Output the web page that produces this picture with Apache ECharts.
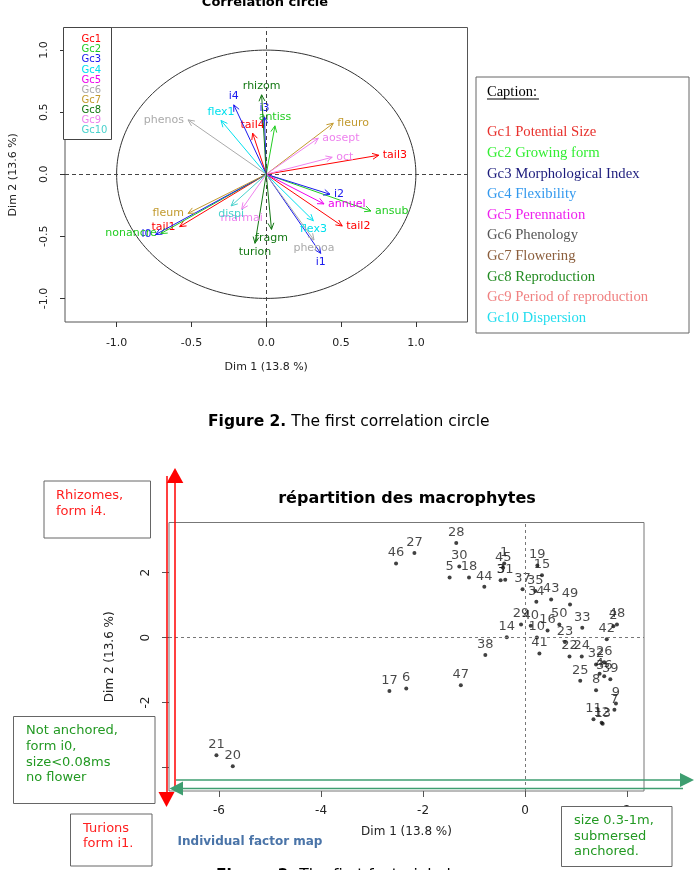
<!DOCTYPE html>
<html>
<head>
<meta charset="utf-8">
<script src="https://cdn.jsdelivr.net/npm/echarts@6/dist/echarts.min.js"></script>
<style>
html,body{margin:0;padding:0;background:#fff;}
#c{width:700px;height:870px;}
</style>
</head>
<body>
<div id="c"></div>
<script>
// ---------- Data: correlation circle ----------
const groupNames = ['Gc1','Gc2','Gc3','Gc4','Gc5','Gc6','Gc7','Gc8','Gc9','Gc10'];
const groupLabels = ['Potential Size','Growing form','Morphological Index','Flexibility','Perennation','Phenology','Flowering','Reproduction','Period of reproduction','Dispersion'];
const groupColors = ['#ff0000','#22cc22','#1a1aee','#00e0ee','#ee00ee','#aaaaaa','#c29a2e','#127712','#ee82ee','#48d1cc'];
const captionColors = ['#e8302c','#33ee33','#1c1c7c','#3399ee','#ee22ee','#555555','#8b5e3c','#228b22','#f08080','#22ddee'];

const varNames = ['tail1','tail2','tail3','tail4','nonancre','ansub','antiss','i0','i1','i2','i3','i4','flex1','flex3','annuel','phenos','phenoa','fleum','fleuro','rhizom','fragm','turion','aosept','oct','marmai','dispi'];
const varDim1  = [-0.579, 0.508, 0.752,-0.091,-0.705, 0.700, 0.058,-0.740, 0.364, 0.426,-0.012,-0.217,-0.302, 0.315, 0.386,-0.523, 0.319,-0.523, 0.448,-0.031, 0.035,-0.075, 0.348, 0.441,-0.164,-0.235];
const varDim2  = [-0.422,-0.417, 0.153, 0.331,-0.478,-0.296, 0.390,-0.486,-0.637,-0.161, 0.462, 0.559, 0.433,-0.374,-0.239, 0.438,-0.530,-0.315, 0.411, 0.640,-0.444,-0.556, 0.290, 0.137,-0.282,-0.255];
const varGroup = [0,0,0,0,1,1,1,2,2,2,2,2,3,3,4,5,5,6,6,7,7,7,8,8,8,9];
const circleTicks = [-1,-0.5,0,0.5,1];

// ---------- Data: individual factor map ----------
const indIds  = [1,2,3,4,5,6,7,8,9,10,11,12,13,14,15,16,17,18,19,20,21,22,23,24,25,26,27,28,29,30,31,32,33,34,35,36,37,38,39,40,41,42,43,44,45,46,47,48,49,50];
const indDim1 = [-0.41,1.73,-0.48,1.46,-1.48,-2.33,1.75,1.39,1.78,0.23,1.34,1.50,1.52,-0.36,0.33,0.44,-2.66,-1.10,0.24,-5.73,-6.05,0.87,0.78,1.11,1.08,1.55,-2.17,-1.35,-0.08,-1.29,-0.39,1.39,1.12,0.22,0.20,1.55,-0.05,-0.78,1.67,0.11,0.28,1.60,0.51,-0.80,-0.43,-2.53,-1.26,1.80,0.88,0.67];
const indDim2 = [2.28,0.35,1.76,-1.11,1.85,-1.57,-2.22,-1.62,-2.03,0.00,-2.51,-2.62,-2.65,0.01,1.92,0.22,-1.64,1.85,2.22,-3.96,-3.62,-0.58,-0.14,-0.58,-1.33,-0.76,2.60,2.91,0.40,2.19,1.78,-0.83,0.30,1.10,1.43,-1.19,1.49,-0.54,-1.28,0.36,-0.49,-0.05,1.17,1.56,2.15,2.28,-1.47,0.40,1.02,0.40];
const indXTicks = [-6,-4,-2,0,2];
const indYTicks = [-4,-2,0,2];

// ---------- Annotation texts ----------
const noteRhizomes = ['Rhizomes,','form i4.'];
const noteNotAnchored = ['Not anchored,','form i0,','size<0.08ms','no flower'];
const noteTurions = ['Turions','form i1.'];
const noteSize = ['size 0.3-1m,','submersed','anchored.'];

const FONT = '"DejaVu Sans", sans-serif';
const chart = echarts.init(document.getElementById('c'), null, {renderer:'canvas'});

const varData = varNames.map((n,i)=>[varDim1[i], varDim2[i], varGroup[i]]);
const indData = indIds.map((id,i)=>[indDim1[i], indDim2[i], id]);

function arrowItem(params, api){
  const i = params.dataIndex;
  const o = api.coord([0,0]);
  const p = api.coord([api.value(0), api.value(1)]);
  const color = groupColors[api.value(2)];
  const a = Math.atan2(p[1]-o[1], p[0]-o[0]);
  const L = 7, th = 25*Math.PI/180;
  const h1 = [p[0]-L*Math.cos(a-th), p[1]-L*Math.sin(a-th)];
  const h2 = [p[0]-L*Math.cos(a+th), p[1]-L*Math.sin(a+th)];
  const dx = api.value(0), dy = api.value(1);
  let tx=p[0], ty=p[1], align='center', va='middle';
  if (Math.abs(dx) >= Math.abs(dy)) {
    if (dx > 0) { tx = p[0]+4; align='left'; } else { tx = p[0]-4; align='right'; }
  } else {
    if (dy > 0) { ty = p[1]-3; va='bottom'; } else { ty = p[1]+3; va='top'; }
  }
  return {type:'group', children:[
    {type:'line', shape:{x1:o[0],y1:o[1],x2:p[0],y2:p[1]}, style:{stroke:color, lineWidth:1}},
    {type:'polyline', shape:{points:[h1,p,h2]}, style:{stroke:color, lineWidth:1, fill:null}},
    {type:'text', x:tx, y:ty, style:{text:varNames[i], fill:color, fontSize:11, fontFamily:FONT, align:align, verticalAlign:va}}
  ]};
}

function circleItem(params, api){
  const pts = [];
  for (let k=0;k<=240;k++){ const t = k/240*2*Math.PI; pts.push(api.coord([Math.cos(t), Math.sin(t)])); }
  return {type:'polyline', shape:{points:pts}, style:{stroke:'#333', lineWidth:1, fill:null}};
}

const graphics = [];
function txt(x,y,text,font,fill,align,va){ graphics.push({type:'text', x:x, y:y, z:100, style:{text:text, font:font, fill:fill, align:align||'left', verticalAlign:va||'middle'}}); }
function rect(x,y,w,h,stroke){ graphics.push({type:'rect', z:95, shape:{x:x,y:y,width:w,height:h}, style:{fill:'#fff', stroke:stroke||'#666', lineWidth:1}}); }
function line(x1,y1,x2,y2,color,w){ graphics.push({type:'line', z:98, shape:{x1,y1,x2,y2}, style:{stroke:color, lineWidth:w||1}}); }
function poly(points,color){ graphics.push({type:'polygon', z:98, shape:{points}, style:{fill:color}}); }
function figCaption(x,y,bold,rest){
  graphics.push({type:'text', x:x, y:y, z:100, style:{text:'{b|'+bold+'} '+rest, fontFamily:FONT, fontSize:15.5, fill:'#000', verticalAlign:'middle',
    rich:{b:{fontWeight:'bold', fontFamily:FONT, fontSize:15.5, fill:'#000'}}}});
}

// titles
txt(265, 3, 'Correlation circle', 'bold 13px '+FONT, '#000', 'center');
txt(407, 499, 'répartition des macrophytes', 'bold 16px '+FONT, '#000', 'center');
figCaption(208, 422, 'Figure 2.', 'The first correlation circle');
figCaption(216, 876, 'Figure 3.', 'The first factorial plane');
txt(250, 842, 'Individual factor map', 'bold 12px '+FONT, '#4a74a8', 'center');

// legend inside correlation plot
graphics.push({type:'rect', z:95, shape:{x:63.5,y:27.5,width:48,height:112}, style:{fill:'#fff', stroke:'#444', lineWidth:1}});
groupNames.forEach((g,i)=>txt(81.5, 39.5+i*10.15, g, '10px '+FONT, groupColors[i], 'left'));

// caption box
rect(476, 77, 213, 256, '#666');
txt(487, 92, 'Caption:', '14.5px "Liberation Serif", serif', '#000', 'left');
line(487, 99, 539, 99, '#000', 1);
groupNames.forEach((g,i)=>txt(487, 132.5+i*20.6, g+' '+groupLabels[i], '14.7px "Liberation Serif", serif', captionColors[i], 'left'));

// red vertical arrows
line(175, 791, 175, 483, '#ff0000', 1.5);
poly([[166.7,483],[183.3,483],[175,468]], '#ff0000');
line(167, 476, 167, 792, '#ff0000', 1.5);
poly([[158.5,792],[174.5,792],[166.5,807]], '#ff0000');
// green horizontal arrows
const GR = '#3e9e70';
line(176, 780, 680, 780, GR, 1.5);
poly([[680,773],[680,787],[694,780]], GR);
line(183, 788.5, 683, 788.5, GR, 1.5);
poly([[183,781.5],[183,795.5],[169.5,788.5]], GR);

// annotation boxes
rect(44, 481, 106.5, 57);
noteRhizomes.forEach((t,i)=>txt(56, 496+i*15.3, t, '13px '+FONT, '#ff2020'));
rect(13.5, 716.5, 141.5, 87);
noteNotAnchored.forEach((t,i)=>txt(26, 731+i*15.6, t, '13px '+FONT, '#229922'));
rect(70.5, 814, 81.5, 52);
noteTurions.forEach((t,i)=>txt(83, 828.5+i*15.3, t, '13px '+FONT, '#ff2020'));
rect(561.5, 806.5, 110.5, 60);
noteSize.forEach((t,i)=>txt(574, 821+i*15.3, t, '13px '+FONT, '#229922'));

const axisTxt = {color:'#222', fontFamily:FONT};
const option = {
  animation:false,
  textStyle:{fontFamily:FONT},
  grid:[
    {left:63.5, top:27.5, width:404, height:294.5, show:true, borderColor:'#555', borderWidth:1, backgroundColor:'transparent'},
    {left:169, top:522.5, width:475, height:268.5, show:true, borderColor:'#777', borderWidth:1, backgroundColor:'transparent'}
  ],
  xAxis:[
    {type:'value', gridIndex:0, min:-1.345, max:1.345, splitLine:{show:false}, axisLine:{show:false, onZero:false},
     axisTick:{show:true, length:5, customValues:circleTicks, lineStyle:{color:'#333'}},
     axisLabel:{customValues:circleTicks, formatter:v=>v.toFixed(1), fontSize:11, margin:16, ...axisTxt},
     name:'Dim 1 (13.8 %)', nameLocation:'middle', nameGap:40, nameTextStyle:{fontSize:11, ...axisTxt}},
    {type:'value', gridIndex:1, min:-6.98, max:2.33, splitLine:{show:false}, axisLine:{show:false, onZero:false},
     axisTick:{show:true, length:6, customValues:indXTicks, lineStyle:{color:'#555'}},
     axisLabel:{customValues:indXTicks, formatter:v=>String(v), fontSize:12, margin:14, ...axisTxt},
     name:'Dim 1 (13.8 %)', nameLocation:'middle', nameGap:35, nameTextStyle:{fontSize:12, ...axisTxt}}
  ],
  yAxis:[
    {type:'value', gridIndex:0, min:-1.19, max:1.182, splitLine:{show:false}, axisLine:{show:false, onZero:false},
     axisTick:{show:true, length:5, customValues:circleTicks, lineStyle:{color:'#333'}},
     axisLabel:{customValues:circleTicks, formatter:v=>v.toFixed(1), fontSize:11, margin:15, rotate:90, ...axisTxt},
     name:'Dim 2 (13.6 %)', nameLocation:'middle', nameGap:46, nameRotate:90, nameTextStyle:{fontSize:11, ...axisTxt}},
    {type:'value', gridIndex:1, min:-4.72, max:3.54, splitLine:{show:false}, axisLine:{show:false, onZero:false},
     axisTick:{show:true, length:7, customValues:indYTicks, lineStyle:{color:'#555'}},
     axisLabel:{customValues:indYTicks, formatter:v=>String(v), fontSize:12, margin:17, rotate:90, ...axisTxt},
     name:'Dim 2 (13.6 %)', nameLocation:'middle', nameGap:53, nameRotate:90, nameTextStyle:{fontSize:12, ...axisTxt}}
  ],
  series:[
    {type:'custom', xAxisIndex:0, yAxisIndex:0, data:[[0,0]], renderItem:circleItem, silent:true, z:1,
     markLine:{silent:true, symbol:'none', label:{show:false}, lineStyle:{type:[4,3], color:'#444', width:1},
       data:[{xAxis:0},{yAxis:0}]}},
    {type:'custom', xAxisIndex:0, yAxisIndex:0, data:varData, renderItem:arrowItem, z:3},
    {type:'scatter', xAxisIndex:1, yAxisIndex:1, data:indData, symbolSize:4, itemStyle:{color:'#111'},
     label:{show:true, position:'top', distance:2, formatter:p=>String(p.data[2]), fontSize:13, color:'#1a1a1a', fontFamily:FONT},
     markLine:{silent:true, symbol:'none', label:{show:false}, lineStyle:{type:[3,3], color:'#777', width:1},
       data:[{xAxis:0},{yAxis:0}]}}
  ],
  graphic:{elements:graphics}
};
chart.setOption(option);
</script>
</body>
</html>
